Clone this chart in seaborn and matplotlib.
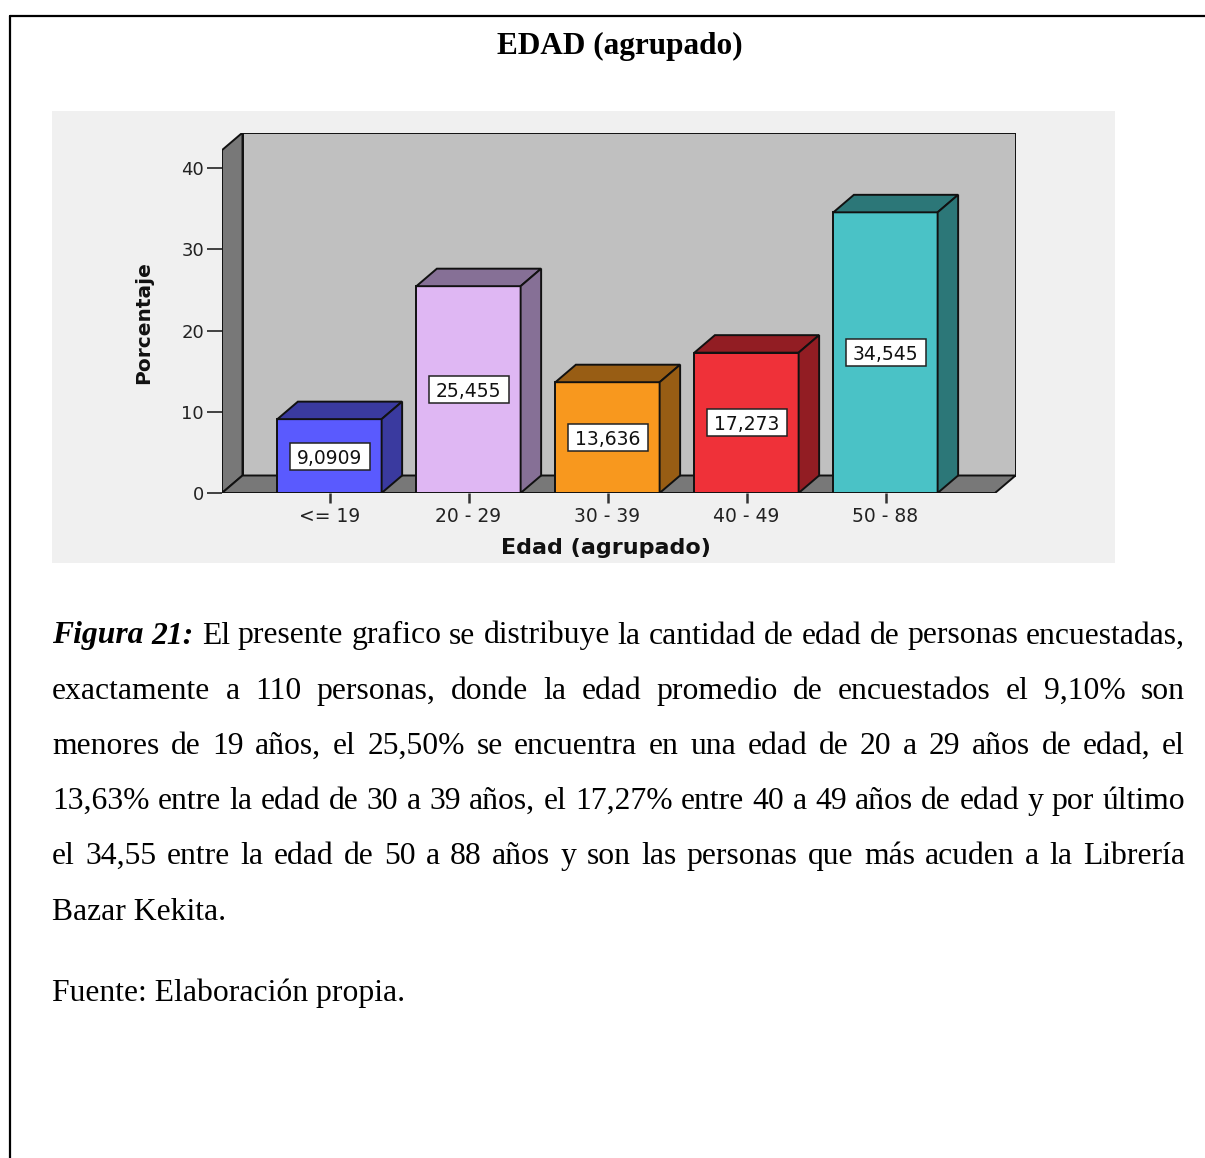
import matplotlib
matplotlib.use("Agg")
import matplotlib.pyplot as plt
from matplotlib.patches import Polygon, Rectangle
from matplotlib.lines import Line2D
import seaborn as sns

# ---- data -------------------------------------------------------------
categories = ["<= 19", "20 - 29", "30 - 39", "40 - 49", "50 - 88"]
porcentaje = [9.0909, 25.455, 13.636, 17.273, 34.545]
value_labels = ["9,0909", "25,455", "13,636", "17,273", "34,545"]
front_colors = ["#5a5afe", "#dfb7f3", "#f8981e", "#ef3139", "#4ac2c6"]
shade_colors = ["#3a3a9f", "#867096", "#985d14", "#921d23", "#2c7778"]
y_ticks = [0, 10, 20, 30, 40]

title_text = "EDAD (agrupado)"
x_label = "Edad (agrupado)"
y_label = "Porcentaje"

caption_lines = [
    [("Figura", "bi"), ("21:", "bi"), ("El", "r"), ("presente", "r"), ("grafico", "r"),
     ("se", "r"), ("distribuye", "r"), ("la", "r"), ("cantidad", "r"), ("de", "r"),
     ("edad", "r"), ("de", "r"), ("personas", "r"), ("encuestadas,", "r")],
    "exactamente a 110 personas, donde la edad promedio de encuestados el 9,10% son",
    "menores de 19 años, el 25,50% se encuentra en una edad de 20 a 29 años de edad, el",
    "13,63% entre la edad de 30 a 39 años, el 17,27% entre 40 a 49 años de edad y por último",
    "el 34,55 entre la edad de 50 a 88 años y son las personas que más acuden a la Librería",
]
caption_last = "Bazar Kekita."
source_text = "Fuente: Elaboración propia."

# ---- figure -----------------------------------------------------------
W, H = 1205, 1158
sns.set_style("white")
plt.rcParams["font.family"] = ["DejaVu Sans"]
plt.rcParams["text.color"] = "black"
fig = plt.figure(figsize=(W / 100, H / 100), dpi=100)
fig.patch.set_facecolor("white")


def fx(x):
    return x / W


def fy(y):
    return 1 - y / H


# page frame (top and left rules)
fig.add_artist(Line2D([fx(10), fx(10)], [0, fy(16)], transform=fig.transFigure,
                      color="black", lw=1.6))
fig.add_artist(Line2D([fx(10), 1], [fy(16), fy(16)], transform=fig.transFigure,
                      color="black", lw=1.6))

# title
fig.text(fx(620), fy(54), title_text, ha="center", va="baseline", fontsize=22.5,
         fontweight="bold", family="Liberation Serif", color="black")

# light grey chart panel
fig.add_artist(Rectangle((fx(52), fy(563)), (1115 - 52) / W, (563 - 111) / H,
                         transform=fig.transFigure, fc="#f0f0f0", ec="none", zorder=-5))

# ---- 3D-looking bar chart --------------------------------------------
px_x = 139.0          # pixels per category step
px_y = 8.125          # pixels per percentage point
x0 = -0.7734          # left front edge of floor
xR = 4.788            # right front edge of floor
dx = 20.5 / px_x      # depth offset (x)
dy = 17.5 / px_y      # depth offset (y)
ytop = 42.2           # top of the walls (front)
bar_w = 0.75

xlim = (x0, xR + dx)
ylim = (0, ytop + dy)
ax_w = (xlim[1] - xlim[0]) * px_x
ax_h = (ylim[1] - ylim[0]) * px_y
ax = fig.add_axes([fx(222), fy(493), ax_w / W, ax_h / H])
ax.patch.set_alpha(0)

edge_kw = dict(edgecolor="#111111", linewidth=1.4, joinstyle="miter")

# back wall, left wall and floor
ax.add_patch(Polygon([(x0 + dx, dy), (xR + dx, dy), (xR + dx, ytop + dy), (x0 + dx, ytop + dy)],
                     closed=True, facecolor="#c0c0c0", zorder=0.5, **edge_kw))
ax.add_patch(Polygon([(x0, 0), (x0 + dx, dy), (x0 + dx, ytop + dy), (x0, ytop)],
                     closed=True, facecolor="#787878", zorder=0.6, **edge_kw))
ax.add_patch(Polygon([(x0, 0), (xR, 0), (xR + dx, dy), (x0 + dx, dy)],
                     closed=True, facecolor="#787878", zorder=0.7, **edge_kw))

# bar fronts
sns.barplot(x=categories, y=porcentaje, hue=categories, palette=front_colors,
            legend=False, width=bar_w, saturation=1, edgecolor="#111111",
            linewidth=1.4, ax=ax, zorder=3)

# bar tops and sides, with boxed value labels
for i, (v, sc) in enumerate(zip(porcentaje, shade_colors)):
    l, r = i - bar_w / 2, i + bar_w / 2
    ax.add_patch(Polygon([(l, v), (r, v), (r + dx, v + dy), (l + dx, v + dy)],
                         closed=True, facecolor=sc, zorder=3, **edge_kw))
    ax.add_patch(Polygon([(r, 0), (r + dx, dy), (r + dx, v + dy), (r, v)],
                         closed=True, facecolor=sc, zorder=3, **edge_kw))
    bw, bh = 80 / px_x, 27 / px_y
    ax.add_patch(Rectangle((i - bw / 2, v / 2 - bh / 2), bw, bh, facecolor="white",
                           edgecolor="#222222", linewidth=1.1, zorder=4))
    ax.text(i, v / 2, value_labels[i], ha="center", va="center_baseline",
            fontsize=13.5, color="#111111", zorder=5)

ax.set_xlim(*xlim)
ax.set_ylim(*ylim)
for s in ax.spines.values():
    s.set_visible(False)

ax.set_yticks(y_ticks)
ax.set_yticklabels([str(t) for t in y_ticks])
ax.set_xticks(range(len(categories)))
ax.set_xticklabels(categories)
ax.tick_params(axis="y", left=True, length=11, width=1.3, color="#333333",
               labelsize=13, labelcolor="#222222", pad=2)
ax.tick_params(axis="x", bottom=True, length=7, width=1.8, color="#333333",
               labelsize=13.5, labelcolor="#222222", pad=3)

ax.set_xlabel(x_label, fontsize=16, fontweight="bold", color="#111111")
ax.xaxis.set_label_coords((606 - 222) / ax_w, -(548 - 493) / ax_h)
ax.xaxis.label.set_va("center")
ax.set_ylabel(y_label, fontsize=14.5, fontweight="bold", color="#111111")
ax.yaxis.set_label_coords((144 - 222) / ax_w, (493 - 323) / ax_h)
ax.yaxis.label.set_va("center")
ax.grid(False)

# ---- justified caption ------------------------------------------------
cap_fs = 22.8
left_px, right_px = 52, 1185
baselines = [643.5, 698.7, 753.9, 809.1, 864.3]
renderer = fig.canvas.get_renderer()
style_kw = {
    "r": dict(family="Liberation Serif"),
    "bi": dict(family="Liberation Serif", fontweight="bold", fontstyle="italic"),
}
for line, base in zip(caption_lines, baselines):
    if isinstance(line, str):
        line = [(w, "r") for w in line.split()]
    texts = [fig.text(0, fy(base), w, fontsize=cap_fs, va="baseline", ha="left",
                      color="black", **style_kw[s]) for w, s in line]
    widths = [t.get_window_extent(renderer).width for t in texts]
    gap = (right_px - left_px - sum(widths)) / (len(texts) - 1)
    xpos = left_px
    for t, wdt in zip(texts, widths):
        t.set_x(fx(xpos))
        xpos += wdt + gap

fig.text(fx(left_px), fy(919.5), caption_last, fontsize=cap_fs, va="baseline",
         ha="left", family="Liberation Serif", color="black")
fig.text(fx(left_px), fy(1000.5), source_text, fontsize=cap_fs, va="baseline",
         ha="left", family="Liberation Serif", color="black")

fig.savefig("out.png", dpi=100, facecolor="white")
